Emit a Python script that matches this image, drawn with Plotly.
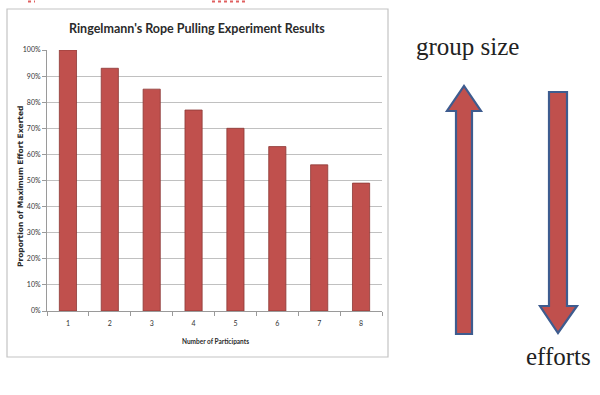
import plotly.graph_objects as go

participants = ["1", "2", "3", "4", "5", "6", "7", "8"]
effort = [1.00, 0.93, 0.85, 0.77, 0.70, 0.63, 0.56, 0.49]

chart_title = "Ringelmann's Rope Pulling Experiment Results"
x_title = "Number of Participants"
y_title = "Proportion of Maximum Effort Exerted"
up_label = "group size"
down_label = "efforts"

W, H = 600, 395
L, R, T, B = 47, 382, 50, 311  # plot area in pixels


def px(x):
    return (x - L) / (R - L)


def py(y):
    return (B - y) / (B - T)


BAR = "#C0504D"
EDGE = "#8C3836"
ARROW_EDGE = "#3E5C8F"

fig = go.Figure(
    go.Bar(
        x=participants,
        y=effort,
        marker=dict(color=BAR, line=dict(color=EDGE, width=0.8)),
        width=0.41,
    )
)


def path(points):
    return "M " + " L ".join(f"{px(a):.5f},{py(b):.5f}" for a, b in points) + " Z"


up_arrow = [(456, 334), (456, 111), (447, 111), (464, 86), (481, 111), (472, 111), (472, 334)]
down_arrow = [(549, 92), (549, 306), (540, 306), (558, 333), (577, 306), (567, 306), (567, 92)]

shapes = [
    dict(type="rect", xref="paper", yref="paper", x0=px(7), x1=px(388), y0=py(357), y1=py(9),
         line=dict(color="#c4c4c4", width=1.2), fillcolor="rgba(0,0,0,0)", layer="below"),
    dict(type="path", xref="paper", yref="paper", path=path(up_arrow),
         fillcolor=BAR, line=dict(color=ARROW_EDGE, width=2.2)),
    dict(type="path", xref="paper", yref="paper", path=path(down_arrow),
         fillcolor=BAR, line=dict(color=ARROW_EDGE, width=2.2)),
    dict(type="line", xref="paper", yref="paper", x0=px(28), x1=px(35), y0=py(1.5), y1=py(1.5),
         line=dict(color="#e06060", width=2, dash="dot")),
    dict(type="line", xref="paper", yref="paper", x0=px(212), x1=px(245), y0=py(1.5), y1=py(1.5),
         line=dict(color="#e06060", width=2, dash="dot")),
]

annotations = [
    dict(text=f"<b>{chart_title}</b>", xref="paper", yref="paper", x=px(197), y=py(29),
         showarrow=False, font=dict(family="Lato", size=12.5, color="#2b2b2b"),
         xanchor="center", yanchor="middle"),
    dict(text=f"<b>{x_title}</b>", xref="paper", yref="paper", x=px(215), y=py(341),
         showarrow=False, font=dict(family="Lato", size=6.5, color="#2b2b2b"),
         xanchor="center", yanchor="middle"),
    dict(text=f"<b>{y_title}</b>", xref="paper", yref="paper", x=px(20), y=py(187),
         showarrow=False, textangle=-90, font=dict(family="DejaVu Sans", size=7.5, color="#2b2b2b"),
         xanchor="center", yanchor="middle"),
    dict(text=up_label, xref="paper", yref="paper", x=px(467), y=py(47),
         showarrow=False, font=dict(family="Liberation Serif", size=25, color="#222222"),
         xanchor="center", yanchor="middle"),
    dict(text=down_label, xref="paper", yref="paper", x=px(558), y=py(356),
         showarrow=False, font=dict(family="Liberation Serif", size=25, color="#222222"),
         xanchor="center", yanchor="middle"),
]

fig.update_layout(
    width=W, height=H,
    margin=dict(l=L, r=W - R, t=T, b=H - B, pad=0),
    paper_bgcolor="white", plot_bgcolor="white",
    showlegend=False,
    shapes=shapes,
    annotations=annotations,
    xaxis=dict(
        type="category", showgrid=False, showline=True, linecolor="#9a9a9a", linewidth=1,
        ticks="outside", tickson="boundaries", ticklen=4, tickcolor="#9a9a9a",
        ticklabelstandoff=6,
        tickfont=dict(family="Lato", size=7, color="#333333"),
    ),
    yaxis=dict(
        range=[0, 1], dtick=0.1, tickformat=".0%", showgrid=True, gridcolor="#c0c0c0", gridwidth=1,
        showline=True, linecolor="#9a9a9a", linewidth=1, ticks="outside", ticklen=4, tickcolor="#9a9a9a",
        tickfont=dict(family="Lato", size=7, color="#333333"), zeroline=False,
    ),
)

fig.write_html(
    "out.html",
    config={"displayModeBar": False},
    post_script="document.body.style.margin='0';document.body.style.overflow='hidden';",
)
